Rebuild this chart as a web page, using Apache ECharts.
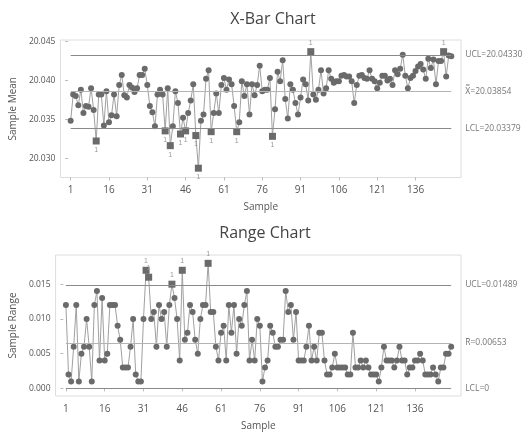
<!DOCTYPE html>
<html><head><meta charset="utf-8">
<script src="https://cdn.jsdelivr.net/npm/echarts@6/dist/echarts.min.js"></script>
<style>html,body{margin:0;padding:0;background:#fff}#c{width:531px;height:435px}</style>
</head><body><div id="c"></div>
<script>
// X-bar chart: sample means (samples 1..150)
var xbarMeans = [
20.0348,20.0382,20.0380,20.0368,20.0388,20.0358,20.0367,20.0366,20.0390,20.0362,
20.0322,20.0382,20.0382,20.0342,20.0386,20.0346,20.0355,20.0382,20.0354,20.0394,
20.0407,20.0381,20.0378,20.0394,20.0391,20.0385,20.0390,20.0407,20.0407,20.0415,
20.0394,20.0367,20.0359,20.0341,20.0382,20.0388,20.0382,20.0335,20.0390,20.0316,
20.0341,20.0386,20.0371,20.0331,20.0352,20.0335,20.0358,20.0374,20.0395,20.0329,
20.0287,20.0348,20.0356,20.0402,20.0413,20.0334,20.0358,20.0383,20.0358,20.0394,
20.0403,20.0388,20.0401,20.0395,20.0367,20.0334,20.0346,20.0399,20.0380,20.0395,
20.0356,20.0395,20.0381,20.0394,20.0419,20.0386,20.0388,20.0388,20.0403,20.0328,
20.0363,20.0411,20.0399,20.0426,20.0376,20.0351,20.0395,20.0388,20.0371,20.0356,
20.0378,20.0401,20.0395,20.0374,20.0437,20.0382,20.0375,20.0388,20.0413,20.0383,
20.0390,20.0413,20.0402,20.0397,20.0399,20.0399,20.0406,20.0407,20.0405,20.0405,
20.0399,20.0371,20.0394,20.0406,20.0407,20.0403,20.0402,20.0413,20.0402,20.0399,
20.0390,20.0397,20.0406,20.0406,20.0400,20.0402,20.0394,20.0413,20.0408,20.0415,
20.0433,20.0406,20.0390,20.0403,20.0406,20.0412,20.0418,20.0421,20.0414,20.0402,
20.0428,20.0416,20.0427,20.0395,20.0425,20.0425,20.0437,20.0405,20.0432,20.0431
];
// Range chart: sample ranges
var sampleRanges = [
0.012,0.002,0.001,0.006,0.012,0.001,0.005,0.006,0.010,0.006,
0.001,0.012,0.014,0.004,0.013,0.004,0.005,0.012,0.012,0.012,
0.009,0.007,0.003,0.003,0.003,0.006,0.010,0.002,0.001,0.001,
0.010,0.017,0.016,0.010,0.011,0.006,0.012,0.010,0.011,0.006,
0.012,0.015,0.013,0.010,0.004,0.017,0.007,0.008,0.012,0.011,
0.007,0.005,0.010,0.012,0.012,0.018,0.011,0.011,0.006,0.004,
0.008,0.009,0.004,0.012,0.008,0.012,0.005,0.010,0.009,0.012,
0.014,0.004,0.007,0.004,0.010,0.009,0.001,0.003,0.004,0.009,
0.008,0.006,0.006,0.007,0.007,0.014,0.011,0.012,0.007,0.011,
0.004,0.004,0.004,0.006,0.009,0.004,0.006,0.004,0.008,0.008,
0.004,0.002,0.002,0.003,0.005,0.003,0.003,0.003,0.003,0.002,
0.002,0.008,0.003,0.003,0.004,0.003,0.004,0.003,0.002,0.002,
0.002,0.001,0.003,0.006,0.004,0.004,0.004,0.003,0.004,0.006,
0.004,0.004,0.002,0.003,0.003,0.004,0.004,0.005,0.004,0.002,
0.002,0.002,0.003,0.002,0.001,0.003,0.003,0.005,0.005,0.006
];
var xbarLimits = {ucl: 20.04330, center: 20.03854, lcl: 20.03379};
var rangeLimits = {ucl: 0.01489, center: 0.00653, lcl: 0};
var xTickLabels = [1,16,31,46,61,76,91,106,121,136];
var xbarTicks = [20.030,20.035,20.040,20.045];
var rangeTicks = [0.000,0.005,0.010,0.015];

var PT = '#6a6a6a', LN = '#a0a0a0', TXT = '#555', FONT = '"Open Sans", "Noto Sans", sans-serif';

function buildData(vals, limits) {
  return vals.map(function (v, i) {
    var out = v > limits.ucl + 1e-9 || v < limits.lcl - 1e-9;
    var item = {value: [i + 1, v]};
    if (out) {
      item.symbol = 'rect';
      item.symbolSize = 7;
      item.label = {show: true, formatter: '1', fontSize: 7, color: '#999',
        position: v > limits.ucl ? 'top' : 'bottom', distance: 2};
    }
    return item;
  });
}
function limitLines(limits, labels) {
  var n = xbarMeans.length;
  function seg(v, txt, color) {
    return [{coord: [1, v], lineStyle: {color: color}},
            {coord: [n, v], label: {show: true, formatter: txt}}];
  }
  return {
    silent: true, symbol: ['none', 'none'],
    lineStyle: {type: 'solid', width: 1, color: '#8a8a8a'},
    label: {position: 'end', distance: 14, color: '#777', fontSize: 8.5, fontFamily: FONT},
    data: [seg(limits.ucl, labels[0], '#8a8a8a'), seg(limits.center, labels[1], '#b4b4b4'), seg(limits.lcl, labels[2], '#8a8a8a')]
  };
}
function xAx(gi) {
  return {
    type: 'value', gridIndex: gi, min: -3, max: 153.8,
    name: 'Sample', nameLocation: 'middle', nameGap: 25,
    nameTextStyle: {color: TXT, fontSize: 10, fontFamily: FONT},
    axisLine: {show: false}, splitLine: {show: false},
    axisTick: {show: true, customValues: xTickLabels, length: 3, lineStyle: {color: '#bbb'}},
    axisLabel: {customValues: xTickLabels, color: TXT, fontSize: 10, fontFamily: FONT, margin: 8}
  };
}
function yAx(gi, min, max, ticks, name, gap) {
  return {
    type: 'value', gridIndex: gi, min: min, max: max,
    name: name, nameLocation: 'middle', nameGap: gap,
    nameTextStyle: {color: TXT, fontSize: 10, fontFamily: FONT},
    axisLine: {show: false}, splitLine: {show: false},
    axisTick: {show: true, customValues: ticks, length: 3, lineStyle: {color: '#bbb'}},
    axisLabel: {customValues: ticks, color: TXT, fontSize: 8.5, fontFamily: FONT, margin: 5,
      formatter: function (v) { return v.toFixed(3); }}
  };
}
var chart = echarts.init(document.getElementById('c'), null, {renderer: 'canvas'});
chart.setOption({
  backgroundColor: '#fff',
  animation: false,
  title: [
    {text: 'X-Bar Chart', left: 268, top: 6, textAlign: 'center',
      textStyle: {fontSize: 16, fontWeight: 'normal', color: '#444', fontFamily: FONT}},
    {text: 'Range Chart', left: 260, top: 220, textAlign: 'center',
      textStyle: {fontSize: 16, fontWeight: 'normal', color: '#444', fontFamily: FONT}}
  ],
  grid: [
    {left: 54, top: 40, width: 407, height: 137.5, show: true, borderColor: '#ddd', borderWidth: 1, backgroundColor: 'transparent'},
    {left: 54, top: 255, width: 407, height: 141, show: true, borderColor: '#ddd', borderWidth: 1, backgroundColor: 'transparent'}
  ],
  xAxis: [xAx(0), xAx(1)],
  yAxis: [
    yAx(0, 20.0275, 20.0452, xbarTicks, 'Sample Mean', 37),
    yAx(1, -0.0011, 0.0192, rangeTicks, 'Sample Range', 33)
  ],
  series: [
    {type: 'line', xAxisIndex: 0, yAxisIndex: 0, data: buildData(xbarMeans, xbarLimits),
      symbol: 'circle', symbolSize: 6, showAllSymbol: true,
      itemStyle: {color: PT}, lineStyle: {color: LN, width: 1},
      markLine: limitLines(xbarLimits, ['UCL=20.04330', 'X\u033F=20.03854', 'LCL=20.03379'])},
    {type: 'line', xAxisIndex: 1, yAxisIndex: 1, data: buildData(sampleRanges, rangeLimits),
      symbol: 'circle', symbolSize: 6, showAllSymbol: true,
      itemStyle: {color: PT}, lineStyle: {color: LN, width: 1},
      markLine: limitLines(rangeLimits, ['UCL=0.01489', 'R\u0304=0.00653', 'LCL=0'])}
  ]
});
</script></body></html>
